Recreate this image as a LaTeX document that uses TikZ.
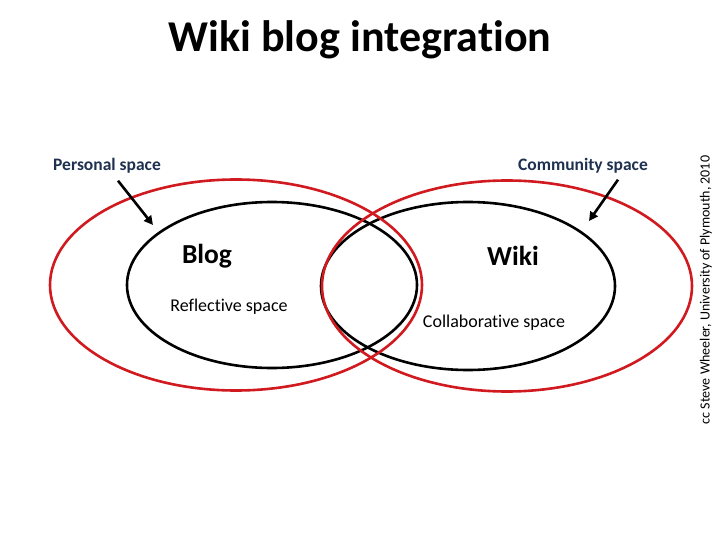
\documentclass[tikz,border=0pt]{standalone}
\usepackage{fontspec}
\setmainfont{Carlito}[Ligatures=NoCommon]
\usepackage{tikz}
\usetikzlibrary{arrows.meta,shapes.geometric}
\definecolor{ringred}{HTML}{D01A1F}
\definecolor{labelnavy}{HTML}{1F3150}

\begin{document}
\begin{tikzpicture}[x=1pt, y=-1pt, every node/.style={align=center, inner sep=0pt}, >={Triangle[length=9pt,width=9pt]},
    space/.style={draw, ellipse, line width=2.6pt},
    spacelabel/.style={font=\fontsize{17.5}{20}\selectfont\bfseries, text=labelnavy},
    toollabel/.style={font=\fontsize{27.5}{32}\selectfont\bfseries},
    rolelabel/.style={font=\fontsize{18}{21}\selectfont}]
    \useasboundingbox[fill=white] (0,0) rectangle (720,540);
    \node[font=\fontsize{44}{50}\selectfont\bfseries] (title) at (360,40) {Wiki blog integration};

    \node[space, black, minimum width=290pt, minimum height=166pt] (blog) at (272,285) {};
    \node[space, black, minimum width=294pt, minimum height=168pt] (wiki) at (468,286) {};
    \node[space, ringred, minimum width=372pt, minimum height=211pt] (personal) at (236,285) {};
    \node[space, ringred, minimum width=370pt, minimum height=211pt] (community) at (507,286) {};

    \node[spacelabel] (personallabel) at (107,166) {Personal space};
    \node[spacelabel] (communitylabel) at (583,166) {Community space};
    \coordinate (personaltip) at (153,225);
    \coordinate (communitytip) at (589,221);
    \draw[->, line width=2.6pt] ([xshift=11pt, yshift=-7pt]personallabel.south) -- (personaltip);
    \draw[->, line width=2.6pt] ([xshift=35pt, yshift=-6pt]communitylabel.south) -- (communitytip);

    \node[toollabel] (blogname) at (207,256) {Blog};
    \node[toollabel] (wikiname) at (513,256) {Wiki};
    \node[rolelabel] (blogrole) at (229,307) {Reflective space};
    \node[rolelabel] (wikirole) at (494,323) {Collaborative space};

    \node[rotate=90, font=\fontsize{14}{16}\selectfont] (credit) at (706,290) {cc Steve Wheeler, University of Plymouth, 2010};
\end{tikzpicture}
\end{document}
